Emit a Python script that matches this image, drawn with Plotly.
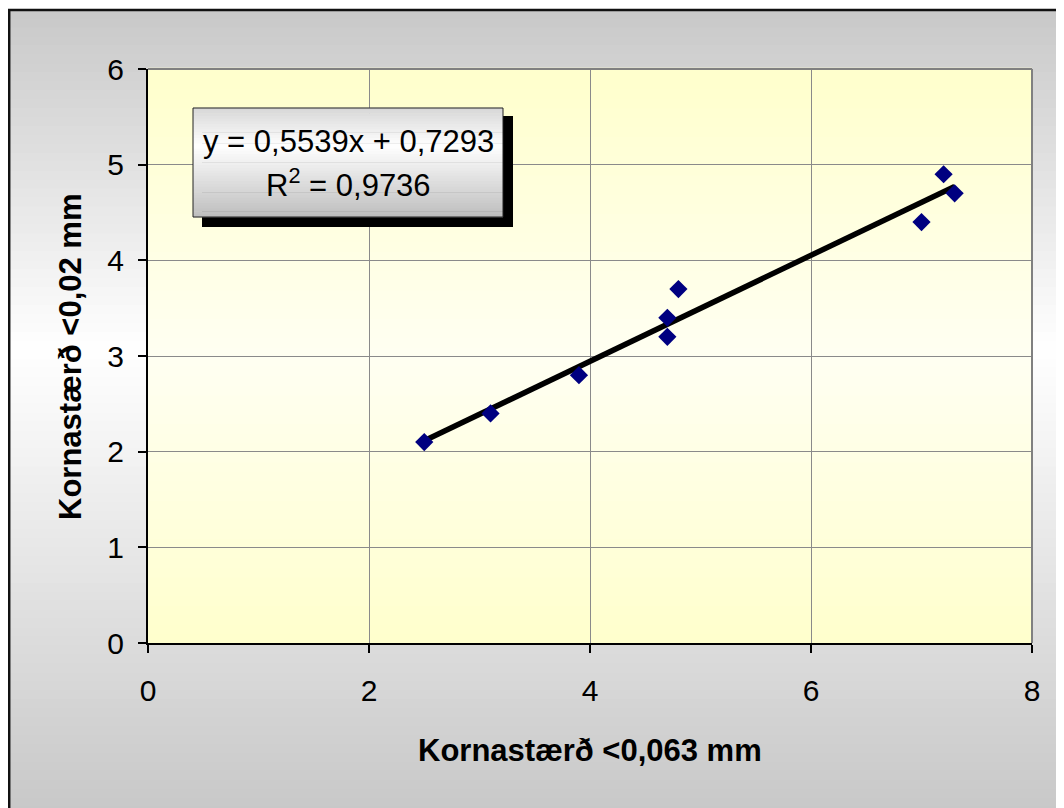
import numpy as np
import plotly.graph_objects as go

# ---- data ----
x_vals = [2.5, 3.1, 3.9, 4.7, 4.7, 4.8, 7.0, 7.2, 7.3]
y_vals = [2.1, 2.4, 2.8, 3.4, 3.2, 3.7, 4.4, 4.9, 4.7]
x_title = "Kornastærð <0,063 mm"
y_title = "Kornastærð <0,02 mm"
eq_line1 = "y = 0,5539x + 0,7293"
eq_line2 = "R<sup>2</sup> = 0,9736"
x_ticks = [0, 2, 4, 6, 8]
y_ticks = [0, 1, 2, 3, 4, 5, 6]

# trendline from least squares fit
slope, intercept = np.polyfit(x_vals, y_vals, 1)
tx = [min(x_vals), max(x_vals)]
ty = [slope * v + intercept for v in tx]

W, H = 1064, 808
OFF = 8  # page body margin offset
# plot area in screen pixels: x 148..1032, y 69..643
L, T = 148 - OFF, 69 - OFF
R = W - (1032 - OFF)
B = H - (643 - OFF)
PW, PH = W - L - R, H - T - B


def xp(px):
    """screen pixel x -> paper"""
    return (px - OFF - L) / PW


def yp(py):
    """screen pixel y -> paper"""
    return (H - B - (py - OFF)) / PH


def lerp_color(c1, c2, f):
    f = max(0.0, min(1.0, f))
    return tuple(int(round(a + (b - a) * f)) for a, b in zip(c1, c2))


def rgb(c):
    return "rgb(%d,%d,%d)" % c


shapes = []

# outer background gradient (gray -> white -> gray)
top_y, peak_y, bot_y = 10, 350, 816
gray = (200, 200, 200)
white = (255, 255, 255)
n = 90
edges = np.linspace(top_y, bot_y, n + 1)
for i in range(n):
    y0, y1 = edges[i], edges[i + 1]
    ym = 0.5 * (y0 + y1)
    if ym < peak_y:
        c = lerp_color(gray, white, (ym - top_y) / (peak_y - top_y))
    else:
        c = lerp_color(white, gray, (ym - peak_y) / (808 - peak_y))
    shapes.append(dict(type="rect", xref="paper", yref="paper", layer="below",
                       x0=xp(OFF), x1=xp(1080), y0=yp(y0 - 0.5), y1=yp(y1 + 0.5),
                       line=dict(width=0), fillcolor=rgb(c)))

# plot area gradient (yellow -> near white -> yellow)
yel = (255, 255, 204)
pale = (255, 255, 242)
m = 60
for i in range(m):
    f0, f1 = i / m, (i + 1) / m
    fm = 0.5 * (f0 + f1)
    c = lerp_color(yel, pale, 1 - abs(fm - 0.5) * 2)
    shapes.append(dict(type="rect", xref="x domain", yref="y domain", layer="below",
                       x0=0, x1=1, y0=f0 - 0.002, y1=f1 + 0.002,
                       line=dict(width=0), fillcolor=rgb(c)))

# plot frame top/right in gray
shapes.append(dict(type="line", xref="x domain", yref="y domain", layer="above",
                   x0=0, x1=1, y0=1, y1=1, line=dict(color="#808080", width=2)))
shapes.append(dict(type="line", xref="x domain", yref="y domain", layer="above",
                   x0=1, x1=1, y0=0, y1=1, line=dict(color="#808080", width=2)))

# outer black border
shapes.append(dict(type="rect", xref="paper", yref="paper", layer="above",
                   x0=xp(OFF + 1.2), x1=xp(1090), y0=yp(10), y1=yp(840),
                   line=dict(color="#111111", width=2.5), fillcolor="rgba(0,0,0,0)"))

# equation box: shadow, gradient, border
bx0, by0, bx1, by1 = 193, 108, 503, 217
shapes.append(dict(type="rect", xref="paper", yref="paper", layer="above",
                   x0=xp(bx0 + 9), x1=xp(bx1 + 10), y0=yp(by0 + 8), y1=yp(by1 + 10),
                   line=dict(width=0), fillcolor="black"))
k = 40
b_edges = np.linspace(by0, by1, k + 1)
c_top = (215, 215, 215)
c_mid = (255, 255, 255)
c_bot = (190, 190, 190)
for i in range(k):
    y0, y1 = b_edges[i], b_edges[i + 1]
    f = (0.5 * (y0 + y1) - by0) / (by1 - by0)
    if f < 0.35:
        c = lerp_color(c_top, c_mid, f / 0.35)
    else:
        c = lerp_color(c_mid, c_bot, (f - 0.35) / 0.65)
    shapes.append(dict(type="rect", xref="paper", yref="paper", layer="above",
                       x0=xp(bx0), x1=xp(bx1), y0=yp(y0 - 0.3), y1=yp(y1 + 0.3),
                       line=dict(width=0), fillcolor=rgb(c)))
shapes.append(dict(type="rect", xref="paper", yref="paper", layer="above",
                   x0=xp(bx0), x1=xp(bx1), y0=yp(by0), y1=yp(by1),
                   line=dict(color="#222222", width=1), fillcolor="rgba(0,0,0,0)"))

font_family = "Arial, Liberation Sans, sans-serif"

fig = go.Figure()
fig.add_trace(go.Scatter(x=tx, y=ty, mode="lines",
                         line=dict(color="black", width=5.5), showlegend=False,
                         hoverinfo="skip"))
fig.add_trace(go.Scatter(x=x_vals, y=y_vals, mode="markers",
                         marker=dict(symbol="diamond", size=14, color="#000080",
                                     line=dict(width=0)),
                         showlegend=False))

annotations = [
    dict(text="<b>%s</b>" % x_title, xref="paper", yref="paper",
         x=xp(590), y=yp(750), showarrow=False, xanchor="center", yanchor="middle",
         font=dict(family=font_family, size=31, color="black")),
    dict(text="<b>%s</b>" % y_title, xref="paper", yref="paper",
         x=xp(70), y=yp(357), showarrow=False, xanchor="center", yanchor="middle",
         textangle=-90, font=dict(family=font_family, size=31, color="black")),
    dict(text=eq_line1, xref="paper", yref="paper",
         x=xp(348), y=yp(142), showarrow=False, xanchor="center", yanchor="middle",
         font=dict(family=font_family, size=31, color="black")),
    dict(text=eq_line2, xref="paper", yref="paper",
         x=xp(348), y=yp(183), showarrow=False, xanchor="center", yanchor="middle",
         font=dict(family=font_family, size=31, color="black")),
]

fig.update_layout(
    width=W, height=H,
    margin=dict(l=L, r=R, t=T, b=B),
    paper_bgcolor="white",
    plot_bgcolor="rgba(0,0,0,0)",
    shapes=shapes,
    annotations=annotations,
    font=dict(family=font_family, size=30, color="black"),
    xaxis=dict(range=[0, 8], tickvals=x_ticks, ticks="outside", ticklen=8,
               tickwidth=2, tickcolor="black", showline=True, linecolor="black",
               linewidth=2, showgrid=True, gridcolor="#8a8a8a", gridwidth=1,
               zeroline=False, ticklabelstandoff=12,
               tickfont=dict(size=30, family=font_family)),
    yaxis=dict(range=[0, 6], tickvals=y_ticks, ticks="outside", ticklen=8,
               tickwidth=2, tickcolor="black", showline=True, linecolor="black",
               linewidth=2, showgrid=True, gridcolor="#8a8a8a", gridwidth=1,
               zeroline=False, ticklabelstandoff=8,
               tickfont=dict(size=30, family=font_family)),
)

fig.write_html("out.html")
